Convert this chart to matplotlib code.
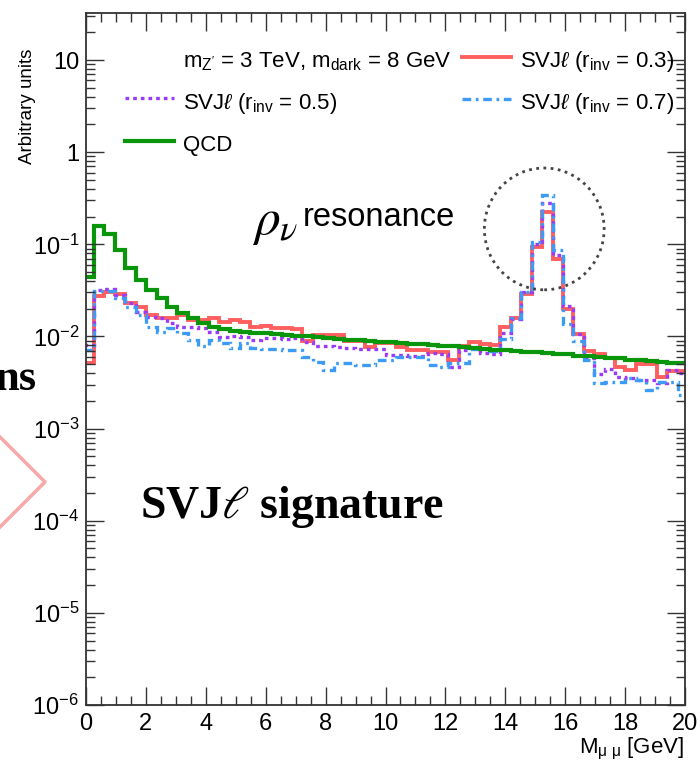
import numpy as np
import matplotlib.pyplot as plt
from matplotlib.lines import Line2D
from matplotlib.patches import Ellipse
from matplotlib.ticker import MultipleLocator, LogLocator, FuncFormatter, NullFormatter

plt.rcParams['font.family'] = ['Liberation Sans', 'DejaVu Sans']
plt.rcParams['mathtext.fontset'] = 'custom'
plt.rcParams['mathtext.rm'] = 'Liberation Sans'
plt.rcParams['mathtext.it'] = 'Liberation Sans:italic'
plt.rcParams['mathtext.bf'] = 'Liberation Sans:bold'

# dimuon mass histogram, 58 bins
bin_edges = np.linspace(-0.08, 20.1, 59)

qcd = [0.044, 0.158, 0.131, 0.0865, 0.056, 0.041, 0.032, 0.026, 0.021, 0.018,
       0.016, 0.014, 0.0127, 0.0119, 0.0115, 0.0112, 0.0110, 0.0108, 0.0106, 0.0104,
       0.0102, 0.0100, 0.0098, 0.0096, 0.0094, 0.0092, 0.0091, 0.0089, 0.0088, 0.0086,
       0.0085, 0.0083, 0.0082, 0.0080, 0.0079, 0.0078, 0.0077, 0.0075, 0.0074, 0.0072,
       0.0071, 0.0070, 0.0068, 0.0067, 0.0066, 0.0065, 0.0064, 0.0062, 0.0061, 0.0060,
       0.0059, 0.0058, 0.0056, 0.0055, 0.0054, 0.0053, 0.0052, 0.0051]

svj_r03 = [0.0052, 0.0274, 0.0305, 0.029, 0.0228, 0.021, 0.017, 0.0157, 0.0157, 0.017,
           0.015, 0.015, 0.0157, 0.0144, 0.015, 0.0144, 0.0127, 0.013, 0.0123, 0.0125,
           0.0121, 0.0089, 0.0105, 0.0105, 0.0104, 0.0089, 0.0089, 0.0076, 0.0084, 0.0084,
           0.0076, 0.0071, 0.0071, 0.0068, 0.0068, 0.0056, 0.0079, 0.0086, 0.0082, 0.0080,
           0.0128, 0.016, 0.029, 0.093, 0.222, 0.070, 0.020, 0.0106, 0.0069, 0.0064,
           0.0058, 0.0047, 0.0043, 0.0050, 0.0050, 0.0036, 0.0042, 0.0042]

svj_r05 = [0.008, 0.032, 0.033, 0.0285, 0.0228, 0.0185, 0.0163, 0.0157, 0.0139, 0.0127,
           0.0127, 0.0122, 0.0113, 0.0099, 0.0101, 0.0098, 0.0092, 0.0096, 0.0096, 0.0094,
           0.0096, 0.0088, 0.0078, 0.0078, 0.0077, 0.0075, 0.0074, 0.0074, 0.0073, 0.0063,
           0.0063, 0.0061, 0.0062, 0.0066, 0.0064, 0.0047, 0.0071, 0.0077, 0.0066, 0.0064,
           0.011, 0.0155, 0.030, 0.100, 0.278, 0.076, 0.0213, 0.0106, 0.0058, 0.0039,
           0.0044, 0.0036, 0.0035, 0.0034, 0.0034, 0.0031, 0.0043, 0.0040]

svj_r07 = [0.0072, 0.031, 0.031, 0.026, 0.021, 0.017, 0.0127, 0.0113, 0.0122, 0.0108,
           0.0091, 0.0078, 0.0091, 0.0085, 0.0075, 0.0085, 0.0075, 0.0074, 0.0074, 0.0071,
           0.0071, 0.0060, 0.0053, 0.0043, 0.0051, 0.0051, 0.0049, 0.0049, 0.0055, 0.0055,
           0.0060, 0.0060, 0.0060, 0.0049, 0.0047, 0.0052, 0.0052, 0.0073, 0.0073, 0.0070,
           0.0095, 0.016, 0.030, 0.105, 0.342, 0.0865, 0.0138, 0.0090, 0.0055, 0.0031,
           0.0032, 0.0032, 0.0035, 0.0034, 0.0026, 0.0032, 0.0032, 0.0023]

c_r03 = '#FF5F5F'
c_r05 = '#9A3CF5'
c_r07 = '#3C9CF5'
c_qcd = '#0A960A'

ls_r05 = (0, (1.1, 1.2))
ls_r07 = (0, (2.6, 1.4, 0.8, 1.4))

fig = plt.figure(figsize=(7, 7.61), dpi=100)
ax = fig.add_axes([0.1229, 0.0736, 0.8557, 0.9093])

ax.stairs(svj_r03, bin_edges, baseline=None, color=c_r03, lw=2.8)
ax.stairs(svj_r05, bin_edges, baseline=None, color=c_r05, lw=2.4, linestyle=ls_r05)
ax.stairs(svj_r07, bin_edges, baseline=None, color=c_r07, lw=2.4, linestyle=ls_r07)
ax.stairs(qcd, bin_edges, baseline=None, color=c_qcd, lw=3.0)

ax.set_xlim(0, 20)
ax.set_yscale('log')
ax.set_ylim(1e-6, 32.4)

# ROOT-like axes: inward ticks on all four sides
ax.xaxis.set_major_locator(MultipleLocator(2))
ax.xaxis.set_minor_locator(MultipleLocator(0.5))
ax.yaxis.set_major_locator(LogLocator(base=10, numticks=20))
ax.yaxis.set_minor_locator(LogLocator(base=10, subs=np.arange(2, 10), numticks=20))
ax.yaxis.set_minor_formatter(NullFormatter())


def decade_label(v, pos):
    e = int(round(np.log10(v)))
    if e == 1:
        return '10'
    if e == 0:
        return '1'
    return r'$10^{%d}$' % e


ax.yaxis.set_major_formatter(FuncFormatter(decade_label))
ax.tick_params(which='both', direction='in', top=True, right=True, colors='#333333',
               labelcolor='black', width=1.0)
ax.tick_params(which='major', length=13, labelsize=17)
ax.tick_params(which='minor', length=6.5)
ax.tick_params(axis='x', which='major', pad=6)
ax.tick_params(axis='y', which='major', pad=5)
for s in ax.spines.values():
    s.set_linewidth(1.3)
    s.set_color('#333333')

fig.text(28 / 700, 1 - 49 / 761, 'Arbitrary units', rotation=90, ha='center', va='top',
         fontsize=13.5)
fig.text(684 / 700, 1 - 753 / 761, r'M$_{\rm\mu\ \mu}$ [GeV]', ha='right', va='baseline',
         fontsize=16)

# legend, two columns, rows kept evenly spaced through handleheight
blank = Line2D([], [], linestyle='none')
h03 = Line2D([], [], color=c_r03, lw=2.8)
h05 = Line2D([], [], color=c_r05, lw=2.4, linestyle=ls_r05)
h07 = Line2D([], [], color=c_r07, lw=2.4, linestyle=ls_r07)
hqcd = Line2D([], [], color=c_qcd, lw=3.0)
handles = [blank, h05, hqcd, h03, h07]
labels = [r"m$_{\rm Z'}$ = 3 TeV, m$_{\rm dark}$ = 8 GeV",
          r'SVJ$\ell$ (r$_{\rm inv}$ = 0.5)',
          'QCD',
          r'SVJ$\ell$ (r$_{\rm inv}$ = 0.3)',
          r'SVJ$\ell$ (r$_{\rm inv}$ = 0.7)']
ax.legend(handles, labels, ncol=2, loc='upper left', bbox_to_anchor=(0.065, 0.952),
          frameon=False, fontsize=16, handlelength=2.2, handleheight=1.5,
          handletextpad=0.42, columnspacing=0.45, labelspacing=0.65,
          borderpad=0, borderaxespad=0)

# resonance annotation
ax.add_patch(Ellipse((0.765, 0.688), 0.2, 0.176, transform=ax.transAxes, fill=False,
                     ec='#444444', lw=2, ls=(0, (1, 1.6))))
ax.text(5.54, 0.13, r'$\rho_{\nu}$', fontsize=37, math_fontfamily='stix',
        ha='left', va='baseline')
ax.text(7.25, 0.158, 'resonance', fontsize=23.5, ha='left', va='baseline')

ax.text(1.8, 1.06e-4, r'SVJ$\ell$ signature', fontsize=33, fontweight='bold',
        family='Liberation Serif', math_fontfamily='stix', ha='left', va='baseline')

# slide elements cut at the left edge
fig.text(37 / 700, 1 - 390 / 761, 'ns', fontsize=32, fontweight='bold',
         family='Liberation Serif', ha='right', va='baseline')
fig.add_artist(Line2D([0, 45 / 700, 0], [1 - 437 / 761, 1 - 482 / 761, 1 - 527 / 761],
                      transform=fig.transFigure, color='#F7A8A8', lw=2.5))

fig.savefig('out.png', dpi=100)
